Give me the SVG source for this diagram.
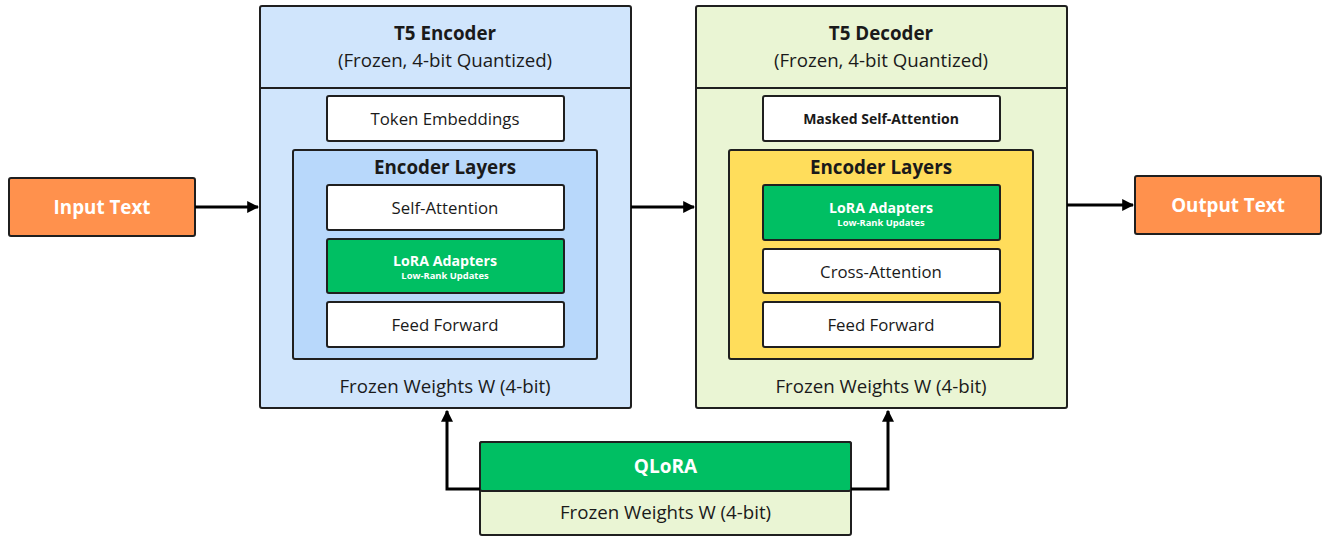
<svg xmlns="http://www.w3.org/2000/svg" width="1325" height="536" viewBox="0 0 1325 536">
  <style>
    text { font-family: "Open Sans", "Noto Sans", "Liberation Sans", sans-serif; fill: #1a1a1a; text-anchor: middle; dominant-baseline: central; }
    .box { stroke: #1f1f1f; stroke-width: 2; }
    .enc { fill: #d0e5fc; }
    .encIn { fill: #b8d8fb; }
    .dec { fill: #eaf5d4; }
    .decIn { fill: #ffdd5b; }
    .white { fill: #ffffff; }
    .green { fill: #00bf63; }
    .orange { fill: #ff914d; }
    .title { font-size: 18.8px; font-weight: 700; }
    .sub { font-size: 18.7px; }
    .item { font-size: 16.8px; }
    .wt { fill: #ffffff; font-weight: 700; }
    .edge { fill: none; stroke: #000; stroke-width: 3; }
  </style>
  <defs>
    <marker id="arrow" viewBox="0 0 10 10" refX="9" refY="5" markerWidth="4" markerHeight="4" orient="auto" markerUnits="strokeWidth">
      <path d="M0,0 L10,5 L0,10 z" fill="#000"/>
    </marker>
  </defs>

  <!-- Input -->
  <g id="input-text">
    <rect class="box orange" x="9" y="178" width="186" height="58" rx="2"/>
    <text class="wt" x="102" y="207" font-size="18.8">Input Text</text>
  </g>

  <!-- Encoder -->
  <g id="t5-encoder">
    <rect class="box enc" x="260" y="6" width="371" height="402" rx="2"/>
    <line class="box" x1="260" y1="88" x2="631" y2="88"/>
    <text class="title" x="445" y="33">T5 Encoder</text>
    <text class="sub" x="445" y="59">(Frozen, 4-bit Quantized)</text>
    <text class="sub" x="445" y="385">Frozen Weights W (4-bit)</text>
  </g>
  <g id="enc-token-embeddings">
    <rect class="box white" x="327" y="96" width="237" height="45" rx="2"/>
    <text class="item" x="445" y="118.5">Token Embeddings</text>
  </g>
  <g id="enc-layers">
    <rect class="box encIn" x="293" y="150" width="304" height="209" rx="2"/>
    <text class="title" x="445" y="167">Encoder Layers</text>
  </g>
  <g id="enc-self-attention">
    <rect class="box white" x="327" y="185" width="237" height="45" rx="2"/>
    <text class="item" x="445" y="207.5">Self-Attention</text>
  </g>
  <g id="enc-lora">
    <rect class="box green" x="327" y="239" width="237" height="54" rx="2"/>
    <text class="wt" x="445" y="260" font-size="14.2">LoRA Adapters</text>
    <text class="wt" x="445" y="275" font-size="9.4">Low-Rank Updates</text>
  </g>
  <g id="enc-feed-forward">
    <rect class="box white" x="327" y="302" width="237" height="45" rx="2"/>
    <text class="item" x="445" y="324.5">Feed Forward</text>
  </g>

  <!-- Decoder -->
  <g id="t5-decoder">
    <rect class="box dec" x="696" y="6" width="371" height="402" rx="2"/>
    <line class="box" x1="696" y1="88" x2="1067" y2="88"/>
    <text class="title" x="881" y="33">T5 Decoder</text>
    <text class="sub" x="881" y="59">(Frozen, 4-bit Quantized)</text>
    <text class="sub" x="881" y="385">Frozen Weights W (4-bit)</text>
  </g>
  <g id="dec-masked-self-attention">
    <rect class="box white" x="763" y="96" width="237" height="45" rx="2"/>
    <text x="881" y="118.5" font-size="14" font-weight="700">Masked Self-Attention</text>
  </g>
  <g id="dec-layers">
    <rect class="box decIn" x="729" y="150" width="304" height="209" rx="2"/>
    <text class="title" x="881" y="167">Encoder Layers</text>
  </g>
  <g id="dec-lora">
    <rect class="box green" x="763" y="185" width="237" height="55" rx="2"/>
    <text class="wt" x="881" y="207" font-size="14.2">LoRA Adapters</text>
    <text class="wt" x="881" y="222" font-size="9.4">Low-Rank Updates</text>
  </g>
  <g id="dec-cross-attention">
    <rect class="box white" x="763" y="249" width="237" height="44" rx="2"/>
    <text class="item" x="881" y="271">Cross-Attention</text>
  </g>
  <g id="dec-feed-forward">
    <rect class="box white" x="763" y="302" width="237" height="45" rx="2"/>
    <text class="item" x="881" y="324.5">Feed Forward</text>
  </g>

  <!-- Output -->
  <g id="output-text">
    <rect class="box orange" x="1135" y="176" width="186" height="58" rx="2"/>
    <text class="wt" x="1228" y="205" font-size="18.8">Output Text</text>
  </g>

  <!-- QLoRA -->
  <g id="qlora">
    <rect class="box dec" x="480" y="442" width="371" height="93" rx="2"/>
    <rect class="box green" x="480" y="442" width="371" height="49" rx="2"/>
    <text class="wt" x="665.5" y="466" font-size="19">QLoRA</text>
    <text class="sub" x="665.5" y="511">Frozen Weights W (4-bit)</text>
  </g>

  <!-- Connectors -->
  <g id="connectors">
    <path class="edge" d="M195,207 L258,207" marker-end="url(#arrow)"/>
    <path class="edge" d="M631,207 L694,207" marker-end="url(#arrow)"/>
    <path class="edge" d="M1067,205 L1133,205" marker-end="url(#arrow)"/>
    <path class="edge" d="M480,489 L447,489 L447,411" marker-end="url(#arrow)"/>
    <path class="edge" d="M851,489 L888,489 L888,411" marker-end="url(#arrow)"/>
  </g>
</svg>
